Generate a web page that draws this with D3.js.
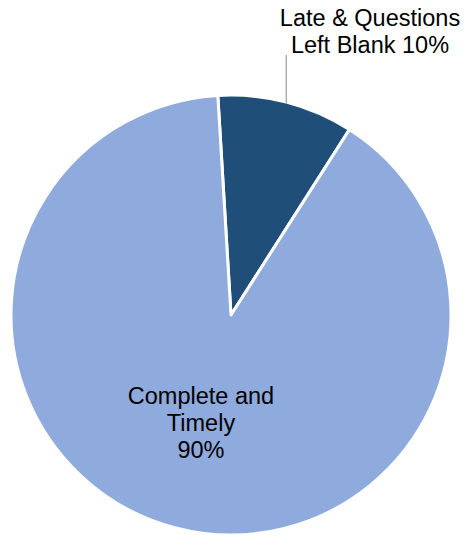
<!DOCTYPE html>
<html>
<head>
<meta charset="utf-8">
<script src="https://cdn.jsdelivr.net/npm/d3@7"></script>
<style>
  body { margin: 0; background: #fff; }
  svg { display: block; font-family: "Liberation Sans", Arial, sans-serif; }
</style>
</head>
<body>
<svg id="chart" width="468" height="535"></svg>
<script>
const categories = ['Late & Questions Left Blank', 'Complete and Timely']
const values = [10, 90]
const labelLines = [['Late & Questions', 'Left Blank 10%'], ['Complete and', 'Timely', '90%']]
const colors = ['#1F4E79', '#8FAADC']

const svg = d3.select('#chart')
const cx = 231, cy = 315, r = 220

const pie = d3.pie().sort(null).value(d => d.value)
    .startAngle(-0.06).endAngle(-0.06 + 2 * Math.PI)
const arc = d3.arc().innerRadius(0).outerRadius(r)

const data = categories.map((c, i) => ({ name: c, value: values[i] }))
const arcs = pie(data)

const g = svg.append('g').attr('transform', `translate(${cx},${cy})`)

g.selectAll('path')
    .data(arcs)
    .enter().append('path')
    .attr('d', arc)
    .attr('fill', (d, i) => colors[i])
    .attr('stroke', '#fff')
    .attr('stroke-width', 3)
    .attr('stroke-linejoin', 'round')

// leader line for the small slice
const a0 = (arcs[0].startAngle + arcs[0].endAngle) / 2
const lx = Math.sin(a0) * r
const ly = -Math.cos(a0) * r
g.append('line')
    .attr('x1', lx).attr('y1', ly + 2)
    .attr('x2', lx).attr('y2', -260)
    .attr('stroke', '#a6a6a6')
    .attr('stroke-width', 1.3)

const fontSize = 23.5
const lineH = 27

// outside label
const t1 = svg.append('text')
    .attr('text-anchor', 'middle')
    .attr('font-size', fontSize)
    .attr('fill', '#000')
labelLines[0].forEach((s, i) => {
    t1.append('tspan').attr('x', 370).attr('y', 26 + i * lineH).text(s)
})

// inside label
const t2 = svg.append('text')
    .attr('text-anchor', 'middle')
    .attr('font-size', fontSize)
    .attr('fill', '#000')
labelLines[1].forEach((s, i) => {
    t2.append('tspan').attr('x', 201).attr('y', 404 + i * lineH).text(s)
})
</script>
</body>
</html>
